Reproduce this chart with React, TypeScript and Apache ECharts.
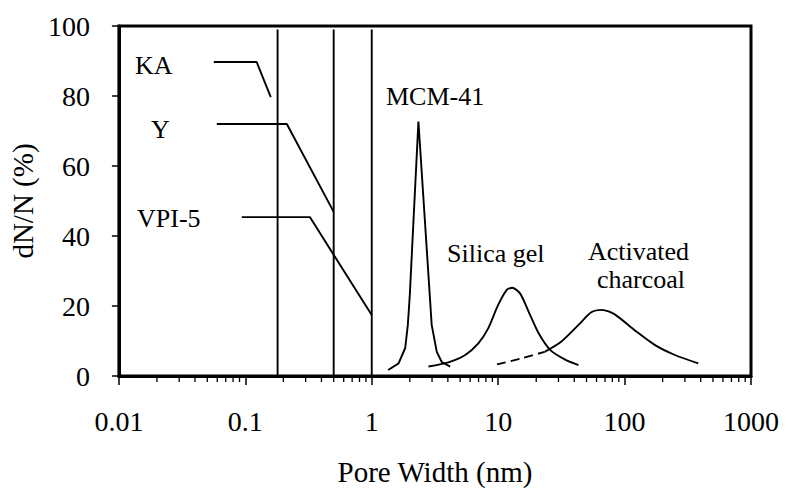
import React, { useEffect, useRef } from "react";
import * as echarts from "echarts";

// ---- data ----
const xTickDecades = [0.01, 0.1, 1, 10, 100];
const minorMultipliers = [2, 3, 4, 5, 6, 7, 8, 9];

// vertical pore-size lines (nm)
const kaLineX = 0.18;
const yLineX = 0.5;
const vpiLineX = 1.0;
const verticalTop = 99;

// leader lines from labels to the vertical lines
const kaLeader: [number, number][] = [[0.0563, 89.7], [0.123, 89.7], [0.159, 79.7]];
const yLeader: [number, number][] = [[0.0595, 72], [0.213, 72], [0.5, 46.9]];
const vpiLeader: [number, number][] = [[0.0938, 45.4], [0.324, 45.4], [1.0, 17.4]];

// distributions: [pore width nm, dN/N %]
const mcm41: [number, number][] = [
  [1.35, 1.7], [1.63, 3.6], [1.84, 8], [1.93, 14.6], [2.0, 23.1], [2.34, 72.7],
  [2.98, 14.6], [3.27, 6.9], [3.58, 4], [4.17, 2.7],
];
const silicaGel: [number, number][] = [
  [2.81, 2.7], [4.04, 3.9], [5.49, 6.0], [6.97, 9.3], [8.34, 13.6], [10.0, 20.3],
  [11.7, 24.6], [12.9, 25.2], [14.9, 23.6], [17.4, 18.4], [20.9, 12.2], [25.9, 7.4],
  [34.2, 4.6], [43.2, 3.1],
];
const charcoalDashed: [number, number][] = [[9.8, 3.3], [15.1, 5.0], [23.3, 6.9]];
const charcoalSolid: [number, number][] = [
  [23.3, 6.9], [31.5, 9.8], [43.2, 14.6], [54.5, 18.2], [66.4, 18.9], [83.6, 17.6],
  [120, 13.1], [173, 8.9], [250, 6.0], [383, 3.6],
];

const FONT = "Liberation Serif";

export default function App() {
  const ref = useRef<HTMLDivElement>(null);
  useEffect(() => {
    if (!ref.current) return;
    const chart = echarts.init(ref.current, null, { renderer: "svg" });

    const minorTicks: number[][] = [];
    xTickDecades.forEach((d) => minorMultipliers.forEach((m) => minorTicks.push([d * m, 0])));

    const line = (name: string, data: [number, number][], extra: any = {}) => ({
      name,
      type: "line",
      data,
      showSymbol: false,
      symbol: "none",
      lineStyle: { color: "#000", width: 1.9, ...(extra.lineStyle || {}) },
      smooth: extra.smooth ?? false,
      z: 3,
    });

    const label = (text: string, left: number, top: number) => ({
      type: "text",
      left,
      top,
      style: { text, fontFamily: FONT, fontSize: 26, fill: "#000" },
    });

    chart.setOption({
      animation: false,
      backgroundColor: "#fff",
      grid: {
        left: 117,
        right: 36,
        top: 26,
        bottom: 115,
        show: true,
        borderColor: "#000",
        borderWidth: 3,
      },
      xAxis: {
        type: "log",
        logBase: 10,
        min: 0.01,
        max: 1000,
        name: "Pore Width (nm)",
        nameLocation: "middle",
        nameGap: 81,
        nameTextStyle: { fontFamily: FONT, fontSize: 29, color: "#000" },
        axisLine: { lineStyle: { color: "#000", width: 3 } },
        axisTick: { show: true, inside: false, length: 9, lineStyle: { color: "#000", width: 1.5 } },
        axisLabel: {
          fontFamily: FONT,
          fontSize: 28,
          color: "#000",
          margin: 31,
          formatter: (v: number) => String(v),
        },
        splitLine: { show: false },
      },
      yAxis: {
        type: "value",
        min: 0,
        max: 100,
        interval: 20,
        name: "dN/N (%)",
        nameLocation: "middle",
        nameRotate: 90,
        nameGap: 78,
        nameTextStyle: { fontFamily: FONT, fontSize: 29, color: "#000" },
        axisLine: { show: true, lineStyle: { color: "#000", width: 3 } },
        axisTick: { show: true, inside: false, length: 7, lineStyle: { color: "#000", width: 1.5 } },
        axisLabel: { fontFamily: FONT, fontSize: 28, color: "#000", margin: 29 },
        splitLine: { show: false },
      },
      series: [
        line("KA line", [[kaLineX, 0], [kaLineX, verticalTop]]),
        line("Y line", [[yLineX, 0], [yLineX, verticalTop]]),
        line("VPI-5 line", [[vpiLineX, 0], [vpiLineX, verticalTop]]),
        line("KA leader", kaLeader),
        line("Y leader", yLeader),
        line("VPI-5 leader", vpiLeader),
        line("MCM-41", mcm41),
        line("Silica gel", silicaGel, { smooth: 0.25 }),
        line("Activated charcoal (low)", charcoalDashed, { smooth: 0.2, lineStyle: { type: [9, 5] } }),
        line("Activated charcoal", charcoalSolid, { smooth: 0.25 }),
        {
          name: "minor ticks",
          type: "custom",
          clip: false,
          silent: true,
          data: minorTicks,
          renderItem: (params: any, api: any) => {
            const p = api.coord([api.value(0), 0]);
            return {
              type: "line",
              shape: { x1: p[0], y1: p[1] + 1, x2: p[0], y2: p[1] + 6 },
              style: { stroke: "#000", lineWidth: 1.3 },
            };
          },
          z: 4,
        },
      ],
      graphic: [
        label("KA", 135, 52),
        label("Y", 151, 116),
        label("VPI-5", 137, 205),
        label("MCM-41", 386, 83),
        label("Silica gel", 447, 240),
        label("Activated", 588, 238),
        label("charcoal", 597, 266),
      ],
    });
    return () => chart.dispose();
  }, []);
  return <div ref={ref} style={{ position: "fixed", left: 0, top: 0, width: 787, height: 491 }} />;
}
